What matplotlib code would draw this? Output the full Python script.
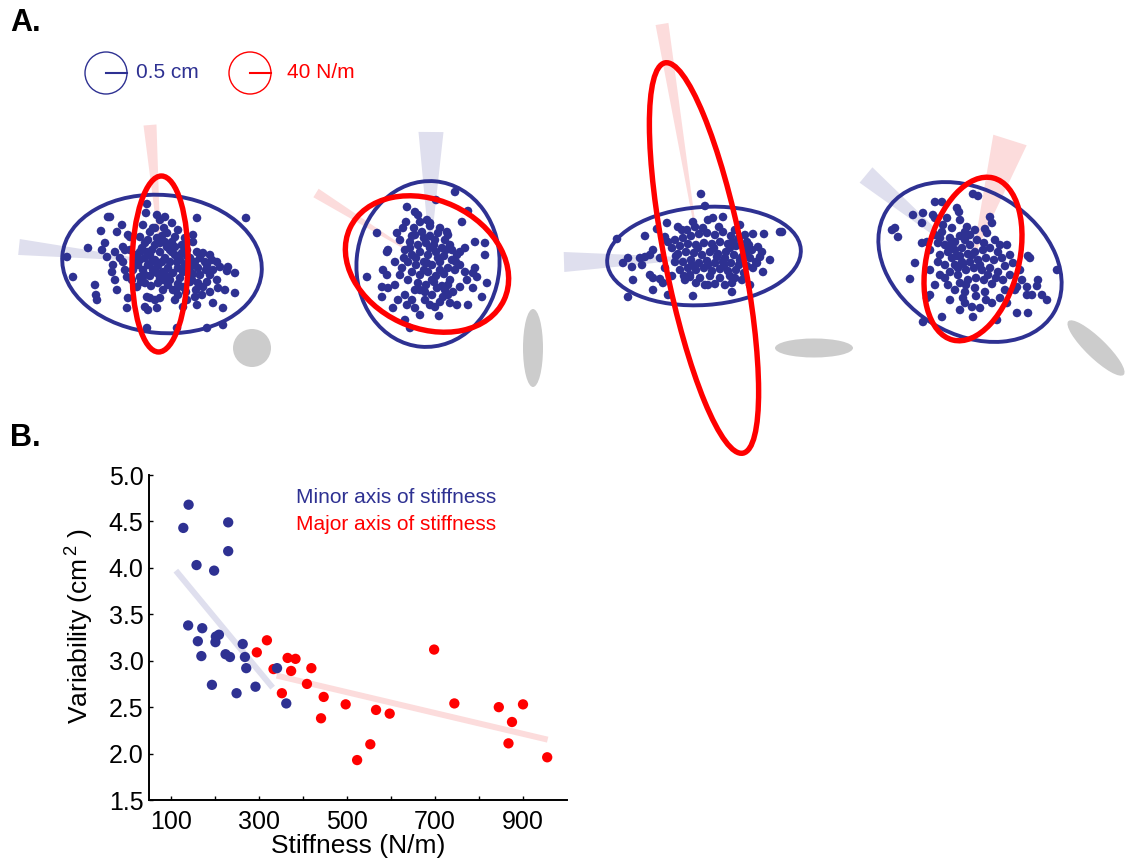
import matplotlib
matplotlib.use("Agg")
import matplotlib.pyplot as plt
from matplotlib.patches import Ellipse, Circle, Polygon
import numpy as np

plt.rcParams['font.family'] = ['Liberation Sans', 'DejaVu Sans']
plt.rcParams['mathtext.fontset'] = 'custom'
plt.rcParams['mathtext.rm'] = 'Liberation Sans'
plt.rcParams['mathtext.it'] = 'Liberation Sans'

BLUE = '#2e3192'
RED = '#ff0000'
LBLUE = '#dfdfee'
LRED = '#fcdcdc'
GRAY = '#cccccc'

# ---------------- Panel B data ----------------
minor_x = [128, 140, 230, 230, 158, 198, 139, 171, 161, 169, 202, 209, 201, 224, 234, 263, 268, 271, 193, 249, 292, 341, 362]
minor_y = [4.43, 4.68, 4.49, 4.18, 4.03, 3.97, 3.38, 3.35, 3.21, 3.05, 3.26, 3.28, 3.20, 3.07, 3.04, 3.18, 3.04, 2.92, 2.74, 2.65, 2.72, 2.92, 2.54]
major_x = [295, 318, 333, 365, 383, 373, 419, 409, 352, 447, 441, 497, 523, 553, 566, 597, 698, 744, 845, 875, 867, 900, 955]
major_y = [3.09, 3.22, 2.91, 3.03, 3.02, 2.89, 2.92, 2.75, 2.65, 2.61, 2.38, 2.53, 1.93, 2.10, 2.47, 2.43, 3.12, 2.54, 2.50, 2.34, 2.11, 2.53, 1.96]
minor_fit_x = [111, 331]
minor_fit_y = [3.97, 2.71]
major_fit_x = [340, 956]
major_fit_y = [2.84, 2.15]
x_ticks = [100, 200, 300, 400, 500, 600, 700, 800, 900]
x_labels = ['100', '', '300', '', '500', '', '700', '', '900']
y_ticks = [1.5, 2.0, 2.5, 3.0, 3.5, 4.0, 4.5, 5.0]

# ---------------- Panel A data (schematic, pixel frame) ----------------
# ellipses: center x, center y, width, height, angle
blue_ell = [(162, 264, 200, 138, 5), (428, 264, 166, 143, -85), (704, 256, 194, 98, -4), (970, 262, 196, 144, 31.5)]
red_ell = [(160, 264, 176, 56, -89), (427, 264, 170, 128, 25), (704, 258, 398, 78, 78.7), (973, 259, 167, 92, 104)]
gray_ell = [(252, 348, 38, 38, 0), (533, 348, 20, 78, 0), (814, 348, 78, 19, 0), (1096, 348, 77, 20, 44)]
# wedges: apex x, apex y, end x, end y, end width
blue_wedges = [(162, 262, 19, 247, 16), (430, 255, 431, 132, 25), (704, 258, 564, 262, 20), (968, 260, 866, 175, 20)]
red_wedges = [(161, 262, 150, 125, 13), (427, 262, 316, 193, 10), (700, 258, 662, 24, 13), (972, 260, 1010, 140, 35)]

cloud1 = [(108,217),(110,217),(122,225),(101,231),(117,232),(128,235),(130,237),(105,243),(88,248),(102,250),
          (115,252),(107,257),(67,257),(123,247),(125,250),(113,265),(112,272),(123,262),(115,280),(73,277),
          (95,285),(117,290),(96,295),(97,300),(128,298),(127,308),(147,204),(146,213),(157,215),(165,217),
          (160,220),(143,225),(150,232),(153,228),(172,223),(197,218),(246,218),(167,233),(175,237),(140,237),
          (145,243),(185,238),(187,250),(193,242),(160,243),(167,247),(170,250),(203,253),(210,255),(217,262),
          (220,267),(207,265),(213,270),(228,267),(227,271),(235,273),(217,280),(207,282),(198,283),(203,287),
          (218,288),(225,290),(235,293),(210,292),(202,295),(195,297),(213,303),(223,308),(197,305),(147,297),
          (150,298),(155,300),(163,290),(173,290),(178,295),(175,300),(160,298),(145,307),(148,310),(157,308),
          (187,300),(183,307),(192,280),(183,287),(147,328),(177,328),(207,328),(223,325),(140,277),(145,283),
          (137,287),(127,277),(132,280),
          (135,255),(140,252),(145,258),(150,255),(155,260),(160,252),(165,258),(170,262),(175,255),(180,260),
          (185,265),(190,258),(195,262),(200,258),(138,265),(143,270),(148,265),(153,270),(158,266),(163,272),
          (168,268),(173,273),(178,268),(183,272),(188,270),(193,274),(198,268),(150,276),(160,278),(170,280),
          (180,278),(190,282),(155,245),(165,242),(175,247),(185,245),(145,275),(133,270),(200,275),(140,260),
          (158,283),(168,285),(178,284),(188,262),(205,262),(210,275),(162,262),(172,252),(182,253),(152,250),
          (142,248),(148,240),(157,238),(162,236),(152,262),(147,252),(157,273),(167,276),(177,262),(187,256),
          (192,266),(197,252),(182,245),(172,242),(136,260),(141,282),(151,286),(163,280),(176,290),(186,292),
          (196,290),(206,270),(212,260),(155,228),(164,228),(178,230),(130,250),(125,270),(120,258),(193,235)]
cloud2 = [(455,192),(436,200),(468,211),(407,207),(415,212),(418,215),(462,222),(406,222),(403,228),(397,233),
          (377,233),(427,220),(430,223),(447,232),(448,235),(475,242),(485,243),(465,248),(460,252),(457,255),
          (485,255),(388,250),(387,252),(395,262),(383,270),(387,275),(367,277),(475,268),(473,273),(477,277),
          (465,272),(467,280),(487,283),(473,288),(460,287),(453,292),(382,287),(388,288),(382,297),(398,300),
          (482,297),(468,305),(457,305),(450,303),(407,305),(412,300),(415,308),(420,315),(439,316),(430,305),
          (435,307),(440,302),(443,297),(448,295),(405,320),(410,328),(393,308),
          (415,235),(422,232),(430,236),(438,233),(445,240),(410,242),(418,245),(426,243),(434,245),(442,248),
          (450,245),(405,250),(412,255),(420,252),(428,255),(436,252),(444,256),(452,260),(408,262),(416,265),
          (424,262),(432,265),(440,262),(448,268),(412,272),(420,275),(428,272),(436,276),(444,274),(418,283),
          (426,285),(434,282),(442,286),(425,292),(432,295),(402,268),(455,270),(400,240),(430,226),(420,222),
          (437,288),(450,280),(415,290),(408,280),
          (414,228),(424,238),(440,228),(446,250),(430,248),(416,258),(424,270),(440,270),(432,280),(420,290),
          (410,248),(404,258),(456,262),(448,285),(452,250),(400,275),(395,285),(435,240),(427,263),(412,236),
          (445,290),(460,265),(405,295),(425,300),(438,258)]
cloud3 = [(701,194),(705,206),(713,218),(723,217),(708,220),(693,222),(695,227),(780,232),(782,232),(764,234),
          (753,234),(745,235),(678,227),(682,230),(667,223),(657,229),(645,236),(617,239),(665,237),(653,250),
          (650,255),(645,257),(640,258),(628,258),(623,263),(632,267),(642,265),(770,260),(762,252),(760,257),
          (763,272),(757,263),(753,268),(633,280),(650,275),(653,278),(660,279),(663,283),(653,290),(628,297),
          (668,295),(693,296),(708,285),(725,285),(732,283),(735,278),(732,292),(750,285),(685,280),(690,275),
          (675,240),(683,238),(691,236),(699,234),(707,233),(715,235),(723,232),(731,236),(739,238),(747,242),
          (672,248),(680,246),(688,244),(696,245),(704,243),(712,244),(720,242),(728,244),(736,246),(744,248),
          (752,250),(678,254),(686,252),(694,253),(702,255),(710,252),(718,254),(726,252),(734,255),(742,257),
          (750,258),(675,262),(683,262),(691,260),(699,263),(707,261),(715,263),(723,262),(731,263),(739,265),
          (747,266),(680,270),(688,268),(696,270),(704,268),(712,271),(720,269),(728,271),(736,270),(744,273),
          (690,277),(700,278),(710,276),(720,278),(730,276),(715,284),(705,285),(725,258),(740,225),
          (687,230),(703,228),(719,227),(735,230),(676,256),(692,265),(708,265),(724,266),(740,260),(756,262),
          (668,242),(684,276),(698,248),(714,248),(730,248),(746,253),(660,258),(665,268),(672,276),(696,283),
          (742,280),(717,257),(733,242),(749,245),(758,247)]
cloud4 = [(973,194),(978,196),(935,202),(942,202),(957,208),(913,215),(923,213),(933,215),(935,218),(959,212),
          (922,223),(892,230),(895,228),(898,237),(990,217),(992,223),(967,227),(965,232),(985,229),(987,233),
          (995,240),(1007,245),(922,243),(927,242),(915,263),(910,279),(930,295),(927,298),(1028,256),(1030,258),
          (1020,270),(1013,263),(1010,275),(1003,280),(1022,280),(1027,287),(1017,287),(1038,280),(1037,286),
          (1032,295),(1027,295),(1042,295),(1047,300),(1057,270),(1000,298),(1007,303),(1017,313),(1028,313),
          (992,303),(980,308),(972,307),(965,303),(963,298),(973,317),(997,320),(942,317),(923,322),
          (935,235),(942,232),(950,238),(945,245),(938,243),(955,242),(960,236),(948,252),(955,250),(962,248),
          (970,245),(977,240),(984,243),(940,255),(952,258),(960,256),(968,254),(975,252),(983,250),(990,248),
          (998,252),(945,265),(955,265),(963,264),(970,262),(978,260),(986,258),(994,260),(1002,258),(950,272),
          (958,275),(966,270),(974,268),(982,270),(990,268),(998,272),(960,283),(968,280),(976,278),(984,280),
          (992,284),(955,290),(965,292),(975,288),(985,292),(948,285),(940,275),(938,262),(970,235),(1005,266),
          (930,270),(950,300),(960,310),
          (930,250),(943,225),(952,228),(947,218),(940,238),(957,256),(965,240),(972,255),(980,265),(988,275),
          (996,278),(958,268),(966,285),(976,296),(986,300),(945,278),(935,285),(960,220),(975,230),(1000,245),
          (1010,255),(1015,290),(1005,290),(950,245),(962,262)]
clouds = [cloud1, cloud2, cloud3, cloud4]

W, H = 1125, 865
fig = plt.figure(figsize=(W / 100, H / 100), dpi=100)

# ---------------- Panel A ----------------
axA = fig.add_axes([0, 0, 1, 1])
axA.set_xlim(0, W)
axA.set_ylim(H, 0)
axA.axis('off')


def wedge(ax, ax0, ay0, ex, ey, w, color):
    d = np.array([ex - ax0, ey - ay0], float)
    n = np.array([-d[1], d[0]]) / np.hypot(*d)
    p1 = np.array([ex, ey]) + n * w / 2
    p2 = np.array([ex, ey]) - n * w / 2
    ax.add_patch(Polygon([[ax0, ay0], p1, p2], closed=True, fc=color, ec='none', zorder=1))


for (cx, cy, w, h, a) in gray_ell:
    axA.add_patch(Ellipse((cx, cy), w, h, angle=a, fc=GRAY, ec='none', zorder=1))
for wd in blue_wedges:
    wedge(axA, *wd, LBLUE)
for wd in red_wedges:
    wedge(axA, *wd, LRED)
for cl in clouds:
    xs = [p[0] for p in cl]
    ys = [p[1] for p in cl]
    axA.scatter(xs, ys, s=38, color=BLUE, edgecolors='none', zorder=2)
for (cx, cy, w, h, a) in blue_ell:
    axA.add_patch(Ellipse((cx, cy), w, h, angle=a, fc='none', ec=BLUE, lw=2.8, zorder=3))
for (cx, cy, w, h, a) in red_ell:
    axA.add_patch(Ellipse((cx, cy), w, h, angle=a, fc='none', ec=RED, lw=3.9, zorder=4))

# scale legend
axA.add_patch(Circle((106, 73), 21, fc='none', ec=BLUE, lw=1.0, zorder=3))
axA.plot([106, 127], [73, 73], color=BLUE, lw=1.5, zorder=3)
axA.text(136, 73, '0.5 cm', color=BLUE, fontsize=15, va='center', ha='left')
axA.add_patch(Circle((250, 73), 21, fc='none', ec=RED, lw=1.0, zorder=3))
axA.plot([250, 271], [73, 73], color=RED, lw=1.5, zorder=3)
axA.text(287, 73, '40 N/m', color=RED, fontsize=15, va='center', ha='left')

fig.text(10 / W, 1 - 8 / H, 'A.', fontsize=22, fontweight='bold', va='top', ha='left')
fig.text(10 / W, 1 - 423 / H, 'B.', fontsize=22, fontweight='bold', va='top', ha='left')

# ---------------- Panel B ----------------
axB = fig.add_axes([149 / W, 1 - 800 / H, (567 - 149) / W, (800 - 475) / H])
axB.patch.set_alpha(0)
axB.plot(minor_fit_x, minor_fit_y, color=LBLUE, lw=4.3, solid_capstyle='butt', zorder=1)
axB.plot(major_fit_x, major_fit_y, color=LRED, lw=4.3, solid_capstyle='butt', zorder=1)
axB.scatter(major_x, major_y, s=55, color=RED, edgecolors='none', zorder=2)
axB.scatter(minor_x, minor_y, s=55, color=BLUE, edgecolors='none', zorder=3)
axB.set_xlim(50, 1000)
axB.set_ylim(1.5, 5.0)
axB.set_xticks(x_ticks)
axB.set_xticklabels(x_labels)
axB.set_yticks(y_ticks)
axB.set_yticklabels([f'{v:.1f}' for v in y_ticks])
for s in ['top', 'right']:
    axB.spines[s].set_visible(False)
for s in ['left', 'bottom']:
    axB.spines[s].set_linewidth(1.4)
axB.tick_params(direction='in', length=3, width=1.0, labelsize=18)
axB.tick_params(axis='x', pad=7)
axB.tick_params(axis='y', pad=4)
axB.set_xlabel('Stiffness (N/m)', fontsize=19, labelpad=0)
axB.set_ylabel('Variability (cm$^{\\,2}$ )', fontsize=19)
axB.yaxis.set_label_coords(-0.126, 0.535)
axB.text(0.352, 0.932, 'Minor axis of stiffness', color=BLUE, fontsize=15, transform=axB.transAxes, va='center')
axB.text(0.352, 0.849, 'Major axis of stiffness', color=RED, fontsize=15, transform=axB.transAxes, va='center')

fig.savefig('out.png', dpi=100)
